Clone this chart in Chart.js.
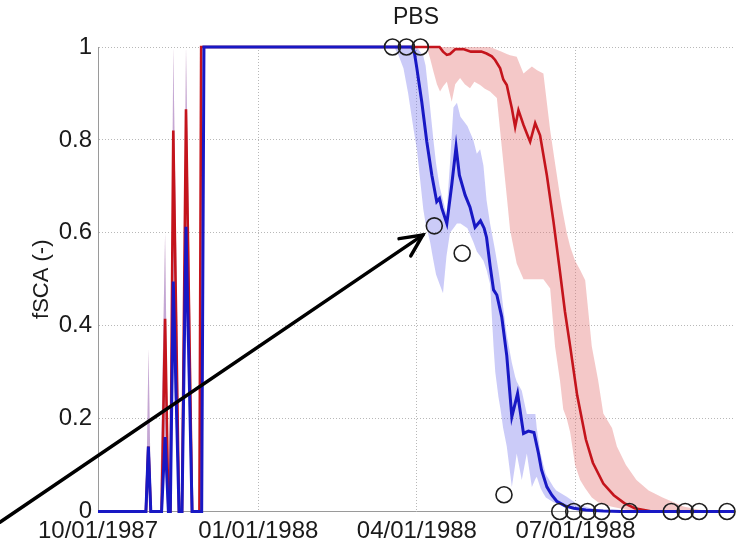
<!DOCTYPE html>
<html><head><meta charset="utf-8">
<script src="https://cdn.jsdelivr.net/npm/chart.js@4"></script>
<style>html,body{margin:0;padding:0;background:#fff}canvas{display:block}</style>
</head><body>
<canvas id="c" width="749" height="548" style="width:749px;height:548px"></canvas>
<script>
// ---- data (x = days since 10/01/1987) ----
const xTickDays = [0, 92, 183, 274];
const xTickLabels = ['10/01/1987', '01/01/1988', '04/01/1988', '07/01/1988'];
const yTickValues = [0, 0.2, 0.4, 0.6, 0.8, 1];

const blueMeanDays = [0,27.5,28.9,30.3,36.5,38.5,40.4,41.5,43.2,46.5,48.2,50.5,54,59.5,60.8,180,181.5,183,185.8,188.7,191.6,194.4,196,197.3,200.2,203,205.5,207.4,210.7,213.5,216.4,219.5,221.6,223,225,227,228.9,231.7,234.6,237.5,240.8,244.2,247,250.2,252.8,254.5,257.6,260.5,263.3,268,273,280,290,300,365];
const blueMeanVals = [0,0,0.14,0,0,0.16,0,0,0.495,0,0,0.613,0,0,1,1,0.99,0.954,0.882,0.796,0.724,0.667,0.674,0.653,0.62,0.703,0.785,0.724,0.681,0.655,0.612,0.626,0.61,0.59,0.53,0.477,0.466,0.419,0.335,0.204,0.254,0.168,0.173,0.17,0.125,0.09,0.053,0.035,0.022,0.012,0.007,0.003,0.001,0,0];

const redMeanDays = [0,27.5,28.9,30.3,36.5,38.5,40.4,41.5,43.2,46.5,48.2,50.5,54,58.2,59.2,196,198,200.2,202,205,210,214,217.4,220,223,226,227.9,230.8,232.6,234.6,236.2,237.5,239.4,241.3,244.2,246.5,248,250.9,253.7,257.6,261.4,265,268,271,275,280,284,290,296,302,308,318,365];
const redMeanVals = [0,0,0.14,0,0,0.415,0,0,0.82,0,0,0.866,0,0,1,1,0.99,0.983,0.985,0.995,0.995,0.99,0.99,0.99,0.986,0.98,0.972,0.954,0.93,0.918,0.89,0.868,0.828,0.864,0.832,0.81,0.796,0.836,0.81,0.724,0.624,0.52,0.43,0.355,0.25,0.155,0.105,0.06,0.035,0.018,0.007,0,0];

const blueBandDays = [0,27.5,29,30.5,35.6,38.5,40.5,41.3,43.2,47,48,50.5,54.7,58.5,60.8,170,172.4,175.3,178,181,183,186.7,188,190.6,192.5,194,196,198,200,202,204,206,208,212,215.4,217.4,219.3,221.2,223,225,227,228,229.8,231,232.5,234.6,237.5,239.4,240.3,243.2,246.1,249,251,251.8,254,255.6,257,261.4,263,269,275,277,285,295,365];
const blueBandLow = [0,0,0.08,0,0,0.1,0,0,0.3,0,0,0.4,0,0,1,1,0.983,0.954,0.9,0.825,0.78,0.65,0.62,0.58,0.54,0.51,0.49,0.47,0.55,0.6,0.61,0.62,0.62,0.61,0.58,0.56,0.55,0.54,0.52,0.49,0.355,0.3,0.247,0.22,0.18,0.14,0.053,0.1,0.125,0.068,0.125,0.053,0.07,0.075,0.05,0.039,0.03,0.02,0.018,0.008,0.003,0.002,0,0,0];
const blueBandHigh = [0,0,0.35,0,0,0.6,0,0,1,0,0,1,0,0,1,1,1,1,1,1,1,0.98,0.96,0.87,0.8,0.75,0.7,0.67,0.64,0.75,0.87,0.88,0.85,0.83,0.8,0.77,0.78,0.745,0.67,0.62,0.58,0.56,0.52,0.49,0.44,0.38,0.32,0.29,0.28,0.26,0.21,0.21,0.21,0.18,0.125,0.1,0.08,0.053,0.045,0.032,0.016,0.014,0.004,0,0];

const redBandDays = [0,27.5,29,30.5,35.6,38.5,40.5,41.3,43.2,47,48,50.5,54.7,58,59.2,188.7,190.6,192.5,194.5,196.3,198,200.2,203,205,207.8,210.5,213.5,216,219.3,222,225,228.9,231.7,234.6,236.5,240.3,244.2,249,252,255.6,259.5,262.3,265.2,267,269,271,273.8,276.7,279.6,283.4,287,290,295,297.8,303,309,316,324,336,345,355,365];
const redBandLow = [0,0,0.1,0,0,0.3,0,0,0.6,0,0,0.7,0,0,1,1,0.975,0.947,0.92,0.904,0.915,0.925,0.882,0.92,0.933,0.92,0.911,0.925,0.918,0.91,0.904,0.89,0.785,0.678,0.606,0.534,0.5,0.5,0.5,0.5,0.48,0.355,0.28,0.22,0.2,0.17,0.1,0.068,0.05,0.03,0.02,0.015,0.01,0.008,0.004,0.002,0,0,0,0,0,0];
const redBandHigh = [0,0,0.35,0,0,0.6,0,0,1,0,0,1,0,0,1,1,1,1,1,1,1,1,1,1,1,1,1,1,1,1,1,0.994,0.99,0.985,0.982,0.979,0.943,0.958,0.95,0.943,0.821,0.75,0.678,0.64,0.6,0.57,0.54,0.52,0.498,0.355,0.283,0.211,0.18,0.14,0.1,0.068,0.045,0.03,0.011,0.004,0,0];

const obsDays = [169,177,185,193,209,233,265,273,281,289,305,329,337,345,361];
const obsVals = [1,1,1,0.615,0.556,0.036,0,0,0,0,0,0,0,0,0];

// annotation arrow (data coordinates: [day, fSCA])
const arrowFrom = [-56.3, -0.023];
const arrowTo = [186.4, 0.595];

const titleText = 'PBS';
const yTitle = 'fSCA (-)';

// ---- helpers ----
const pts = (xs, ys) => xs.map((x, i) => ({x: x, y: ys[i]}));
const FONT = '"Liberation Sans", Arial, Helvetica, sans-serif';
Chart.defaults.font.family = FONT;
Chart.defaults.color = '#1a1a1a';

const overlay = {
  id: 'overlay',
  afterDraw(chart) {
    const ctx = chart.ctx, ca = chart.chartArea;
    const xs = chart.scales.x, ys = chart.scales.y;
    ctx.save();
    ctx.fillStyle = '#1a1a1a';
    ctx.font = '23px ' + FONT;
    ctx.textAlign = 'center';
    ctx.textBaseline = 'middle';
    ctx.fillText(titleText, (ca.left + ca.right) / 2, ca.top - 29);
    // arrow
    const x1 = xs.getPixelForValue(arrowFrom[0]), y1 = ys.getPixelForValue(arrowFrom[1]);
    const x2 = xs.getPixelForValue(arrowTo[0]), y2 = ys.getPixelForValue(arrowTo[1]);
    ctx.strokeStyle = '#000';
    ctx.lineWidth = 3.5;
    ctx.lineCap = 'round';
    ctx.beginPath(); ctx.moveTo(x1, y1); ctx.lineTo(x2, y2); ctx.stroke();
    const ang = Math.atan2(y2 - y1, x2 - x1), L = 24, a = 0.45;
    ctx.beginPath();
    ctx.moveTo(x2 - L * Math.cos(ang - a), y2 - L * Math.sin(ang - a));
    ctx.lineTo(x2, y2);
    ctx.lineTo(x2 - L * Math.cos(ang + a), y2 - L * Math.sin(ang + a));
    ctx.stroke();
    ctx.restore();
  }
};

const lineDs = (label, data, color, width, order) => ({
  type: 'line', label, data, borderColor: color, borderWidth: width,
  pointRadius: 0, tension: 0, fill: false, order, clip: false
});
const bandDs = (label, data, color, fill, order) => ({
  type: 'line', label, data, borderWidth: 0, borderColor: 'rgba(0,0,0,0)',
  backgroundColor: color, pointRadius: 0, tension: 0, fill, order
});

new Chart(document.getElementById('c'), {
  type: 'line',
  data: {
    datasets: [
      {type: 'scatter', label: 'obs', data: pts(obsDays, obsVals), pointRadius: 8, pointHoverRadius: 8,
       pointBorderWidth: 1.6, borderColor: '#1e1e1e', backgroundColor: 'rgba(0,0,0,0)', order: 0, clip: false},
      lineDs('blue', pts(blueMeanDays, blueMeanVals), '#1818c4', 3, 1),
      lineDs('red', pts(redMeanDays, redMeanVals), '#c4141c', 2.6, 2),
      bandDs('blueHigh', pts(blueBandDays, blueBandHigh), 'rgba(110,110,235,0.36)', '+1', 3),
      bandDs('blueLow', pts(blueBandDays, blueBandLow), 'rgba(0,0,0,0)', false, 4),
      bandDs('redHigh', pts(redBandDays, redBandHigh), 'rgba(225,110,110,0.38)', '+1', 5),
      bandDs('redLow', pts(redBandDays, redBandLow), 'rgba(0,0,0,0)', false, 6)
    ]
  },
  options: {
    responsive: false,
    devicePixelRatio: 1,
    animation: false,
    events: [],
    layout: {padding: {left: 25, right: 15, top: 47, bottom: 0}},
    plugins: {legend: {display: false}, tooltip: {enabled: false}, title: {display: false}},
    scales: {
      x: {
        type: 'linear', min: 0, max: 365,
        afterBuildTicks: s => { s.ticks = xTickDays.map(v => ({value: v})); },
        afterFit: s => { s.height = 36.5; },
        ticks: {autoSkip: false, maxRotation: 0, padding: 5, font: {size: 24},
                callback: (v, i) => xTickLabels[i]},
        grid: {color: '#b8b8b8', lineWidth: 1, drawTicks: false},
        border: {color: '#9a9a9a', width: 1, dash: [1, 2]}
      },
      y: {
        min: 0, max: 1,
        afterBuildTicks: s => { s.ticks = yTickValues.map(v => ({value: v})); },
        afterFit: s => { s.width = 73; },
        ticks: {padding: 6, font: {size: 24}, callback: v => String(Math.round(v * 10) / 10)},
        grid: {color: '#b8b8b8', lineWidth: 1, drawTicks: false},
        border: {color: '#9a9a9a', width: 1, dash: [1, 2]},
        title: {display: true, text: yTitle, font: {size: 22}, color: '#1a1a1a', padding: {top: 4, bottom: 4}}
      }
    }
  },
  plugins: [overlay]
});
</script>
</body></html>
